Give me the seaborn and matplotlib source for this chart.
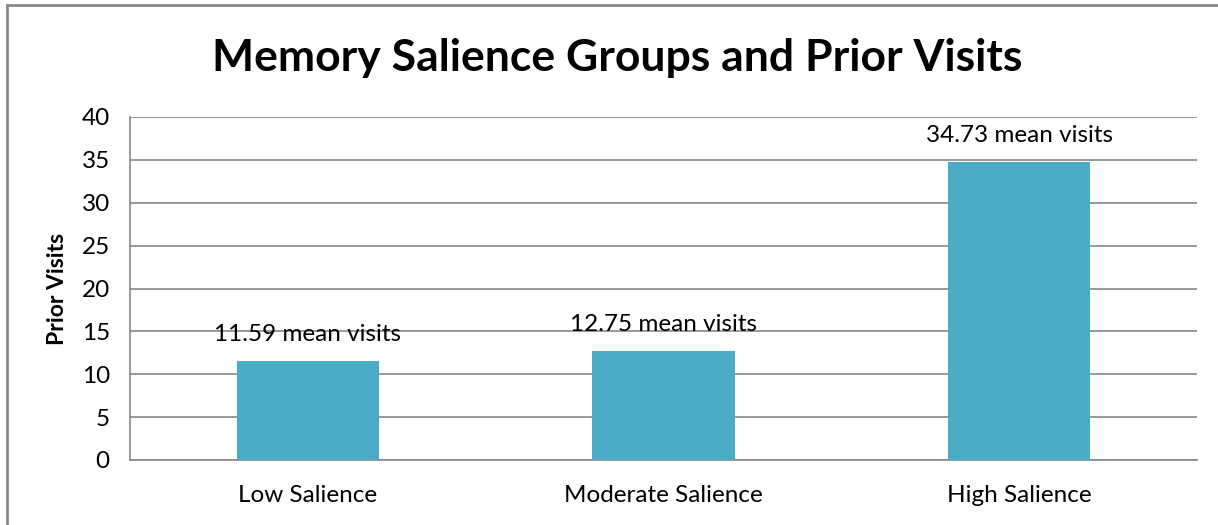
import matplotlib
matplotlib.use("Agg")
import matplotlib.pyplot as plt
import seaborn as sns
import pandas as pd
from matplotlib.lines import Line2D

# Datos
grupos = ["Low Salience", "Moderate Salience", "High Salience"]
visitas = [11.59, 12.75, 34.73]
etiquetas = ["11.59 mean visits", "12.75 mean visits", "34.73 mean visits"]
yticks = [0, 5, 10, 15, 20, 25, 30, 35, 40]

df = pd.DataFrame({"Grupo": grupos, "Visitas": visitas})

sns.set_style("white")
plt.rcParams["font.family"] = ["Lato", "DejaVu Sans"]
plt.rcParams["text.color"] = "black"

gris = "#878787"
fig = plt.figure(figsize=(12.18, 5.25), dpi=100)
ax = fig.add_axes([130 / 1218, 1 - 460 / 525, (1197 - 130) / 1218, (460 - 117) / 525])

sns.barplot(data=df, x="Grupo", y="Visitas", color="#4BACC6", width=0.4,
            saturation=1, linewidth=0, ax=ax, zorder=3)

# etiquetas sobre las barras
for i, (v, t) in enumerate(zip(visitas, etiquetas)):
    ax.annotate(t, (i, v), xytext=(0, 19), textcoords="offset points",
                ha="center", va="center", fontsize=17.5, color="black")

ax.set_ylim(0, 40)
ax.set_xlim(-0.5, 2.5)
ax.set_yticks(yticks)
ax.yaxis.grid(True, color=gris, linewidth=1.2, zorder=0)
ax.set_axisbelow(True)

# ticks de categorías en los bordes
ax.set_xticks([0, 1, 2])
ax.set_xticklabels(grupos, fontsize=17.5, color="black")
ax.set_xticks([-0.5, 0.5, 1.5, 2.5], minor=True)
ax.tick_params(axis="x", which="major", length=0, pad=18)
ax.tick_params(axis="x", which="minor", length=5, width=1.2, color=gris, direction="out")
ax.tick_params(axis="y", length=4.5, width=1.2, color=gris, direction="out",
               labelsize=17.5, labelcolor="black", pad=10)

for s in ["top", "right"]:
    ax.spines[s].set_visible(False)
for s in ["left", "bottom"]:
    ax.spines[s].set_color(gris)
    ax.spines[s].set_linewidth(1.2)

ax.set_xlabel("")
ax.set_ylabel("Prior Visits", fontsize=16.5, fontweight="bold", labelpad=10, color="black")

fig.suptitle("Memory Salience Groups and Prior Visits", fontsize=32,
             fontweight="bold", x=617 / 1218, y=1 - 58 / 525, va="center", color="black")

# marco exterior del gráfico
fig.add_artist(Line2D([7 / 1218, 7 / 1218], [0, 1 - 5 / 525], color=gris, linewidth=2))
fig.add_artist(Line2D([7 / 1218, 1], [1 - 5 / 525, 1 - 5 / 525], color=gris, linewidth=2))

fig.savefig("out.png", dpi=100)
